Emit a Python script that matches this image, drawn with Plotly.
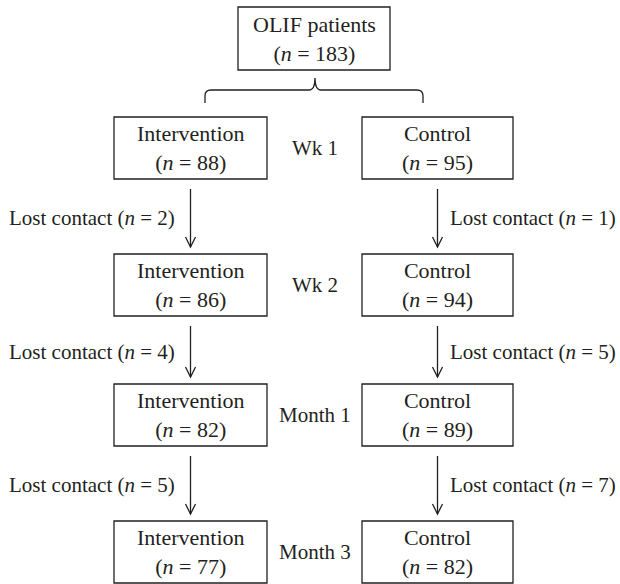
import plotly.graph_objects as go

# ---- data ----
timepoints = ["Wk 1", "Wk 2", "Month 1", "Month 3"]
intervention_n = [88, 86, 82, 77]
control_n = [95, 94, 89, 82]
lost_intervention = [2, 4, 5]
lost_control = [1, 5, 7]
total_label = "OLIF patients"
total_n = 183
group_names = ["Intervention", "Control"]

# ---- layout (pixel space) ----
W, H = 620, 584
FONT = "Liberation Serif"
FS = 21
INK = "#231f20"
LW = 1.3

row_tops = [117, 254, 384, 521]
box_h = 62
left_x = (114, 267)
right_x = (362, 513)
top_box = (238, 390, 7, 70)

fig = go.Figure()
shapes = []
ann = []


def box(x0, x1, y0, y1):
    shapes.append(dict(type="rect", xref="x", yref="y", x0=x0, x1=x1, y0=y0, y1=y1,
                       line=dict(color=INK, width=LW), fillcolor="rgba(0,0,0,0)"))


def text(x, y, s, anchor="center", size=FS):
    ann.append(dict(x=x, y=y, xref="x", yref="y", text=s, showarrow=False,
                    xanchor=anchor, yanchor="middle", align="center",
                    font=dict(family=FONT, size=size, color=INK)))


def arrow(x, y0, y1):
    shapes.append(dict(type="line", xref="x", yref="y", x0=x, x1=x, y0=y0, y1=y1,
                       line=dict(color=INK, width=LW)))
    shapes.append(dict(type="path", xref="x", yref="y",
                       path=f"M {x-5},{y1-10} L {x},{y1} L {x+5},{y1-10}",
                       line=dict(color=INK, width=LW)))


# top box
tx0, tx1, ty0, ty1 = top_box
box(tx0, tx1, ty0, ty1)
text((tx0 + tx1) / 2, (ty0 + ty1) / 2, f"{total_label}<br>(<i>n</i> = {total_n})", size=22)

# brace
lc = (left_x[0] + left_x[1]) / 2
rc = (right_x[0] + right_x[1]) / 2
bl, br = 205, 423
cx = (tx0 + tx1) / 2 + 1
yb, yh, yt = 103, 90, 78
shapes.append(dict(type="path", xref="x", yref="y",
                   path=(f"M {bl},{yb} L {bl},{yh+6} Q {bl},{yh} {bl+6},{yh} "
                         f"L {cx-6},{yh} Q {cx},{yh} {cx},{yt} Q {cx},{yh} {cx+6},{yh} "
                         f"L {br-6},{yh} Q {br},{yh} {br},{yh+6} L {br},{yb}"),
                   line=dict(color=INK, width=LW)))

mid_x = (left_x[1] + right_x[0]) / 2
for i, tp in enumerate(timepoints):
    y0 = row_tops[i]
    y1 = y0 + box_h
    yc = (y0 + y1) / 2
    box(left_x[0], left_x[1], y0, y1)
    box(right_x[0], right_x[1], y0, y1)
    text(lc, yc, f"{group_names[0]}<br>(<i>n</i> = {intervention_n[i]})", size=22)
    text(rc, yc, f"{group_names[1]}<br>(<i>n</i> = {control_n[i]})", size=22)
    text(mid_x, yc, tp)

for i in range(len(lost_intervention)):
    a0 = row_tops[i] + box_h + 10
    a1 = row_tops[i + 1] - 7
    am = (a0 + a1) / 2
    arrow(lc, a0, a1)
    arrow(rc, a0, a1)
    text(lc - 14, am, f"Lost contact (<i>n</i> = {lost_intervention[i]})", anchor="right")
    text(rc + 10, am, f"Lost contact (<i>n</i> = {lost_control[i]})", anchor="left")

fig.update_layout(
    width=W, height=H,
    margin=dict(l=0, r=0, t=0, b=0),
    paper_bgcolor="white", plot_bgcolor="white",
    xaxis=dict(range=[0, W], visible=False, fixedrange=True),
    yaxis=dict(range=[H, 0], visible=False, fixedrange=True),
    shapes=shapes, annotations=ann, showlegend=False,
)
fig.write_html("out.html", config={"displayModeBar": False},
               post_script="document.body.style.margin='0';document.body.style.overflow='hidden';")
